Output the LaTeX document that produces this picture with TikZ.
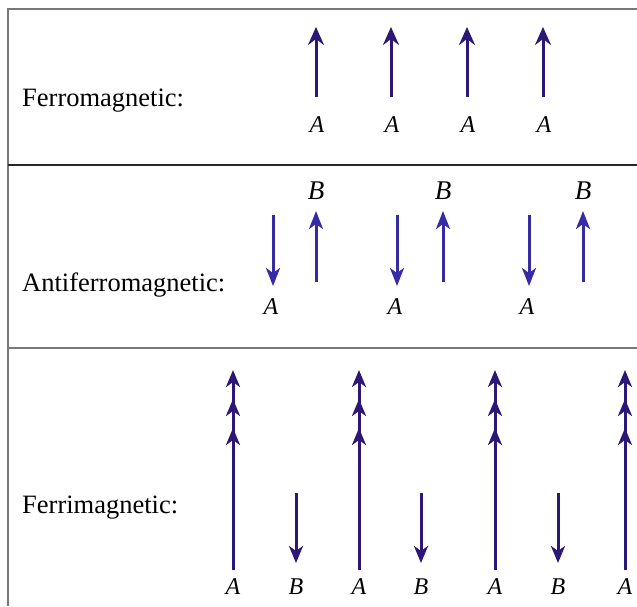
\documentclass[tikz,border=0pt]{standalone}
\usepackage{fontspec}
\setmainfont{Liberation Serif}
\usetikzlibrary{arrows.meta}
\definecolor{spinA}{RGB}{44,22,118}
\definecolor{spinB}{RGB}{55,42,165}
\definecolor{frameg}{RGB}{120,120,120}
\tikzset{
  spin/.style={line width=3pt,color=spinA,-{Stealth[length=18pt,width=16pt,inset=6pt]}},
  spinferri/.style={line width=3pt,color=spinA,-{Stealth[length=17pt,width=14pt,inset=5pt]}},
  spinlight/.style={line width=3pt,color=spinB,-{Stealth[length=18pt,width=14pt,inset=5pt]}},
  lbl/.style={font=\fontsize{26.5}{30}\selectfont,anchor=base west,inner sep=0pt},
  site/.style={font=\fontsize{24}{27}\selectfont\itshape,inner sep=0pt,text=black},
  bsite/.style={font=\fontsize{27}{30}\selectfont\itshape,inner sep=0pt,text=black},
  framel/.style={line width=2pt,color=frameg},
  sepdark/.style={line width=2.6pt,color=black!85},
}
\begin{document}
\begin{tikzpicture}[x=1pt,y=-1pt]
\useasboundingbox (0,0) rectangle (637,606);
% frame
\coordinate (tl) at (8,9);
\coordinate (tr) at (637,9);
\coordinate (bl) at (8,606);
\coordinate (s1l) at (8,165);
\coordinate (s1r) at (637,165);
\coordinate (s2l) at (8,348);
\coordinate (s2r) at (637,348);
\draw[framel] (bl) -- (tl) -- (tr);
\draw[sepdark] (s1l) -- (s1r);
\draw[framel] (s2l) -- (s2r);
% labels
\node[lbl] (ferro) at (22,106) {Ferromagnetic:};
\node[lbl] (antiferro) at (22,291) {Antiferromagnetic:};
\node[lbl] (ferri) at (22,513) {Ferrimagnetic:};
% ferromagnetic
\foreach \x [count=\i] in {316,391,467,543}{
  \coordinate (fb\i) at (\x,97);
  \coordinate (ft\i) at (\x,27);
  \draw[spin] (fb\i) -- (ft\i);
  \node[site] (fa\i) at (\x+1,125) {A};
}
% antiferromagnetic
\foreach \xa/\xb [count=\i] in {273/316,397/443,529/583}{
  \coordinate (ada\i) at (\xa,215);
  \coordinate (adb\i) at (\xa,286);
  \draw[spinlight] (ada\i) -- (adb\i);
  \coordinate (aub\i) at (\xb,282);
  \coordinate (aut\i) at (\xb,211);
  \draw[spinlight] (aub\i) -- (aut\i);
  \node[site] (aa\i) at (\xa-2,307) {A};
  \node[bsite] (ab\i) at (\xb,191) {B};
}
% ferrimagnetic
\foreach \x [count=\i] in {233,359,495,625}{
  \coordinate (rb\i) at (\x,570);
  \coordinate (rt\i) at (\x,370);
  \coordinate (rm\i) at (\x,399);
  \coordinate (rn\i) at (\x,428);
  \draw[spinferri] (rb\i) -- (rt\i);
  \draw[spinferri] (rb\i) -- (rm\i);
  \draw[spinferri] (rb\i) -- (rn\i);
  \node[site] (ra\i) at (\x,587) {A};
}
\foreach \x [count=\i] in {296,421,558}{
  \coordinate (rdt\i) at (\x,493);
  \coordinate (rdb\i) at (\x,563);
  \draw[spinferri] (rdt\i) -- (rdb\i);
  \node[site] (rbl\i) at (\x,587) {B};
}
\end{tikzpicture}
\end{document}
